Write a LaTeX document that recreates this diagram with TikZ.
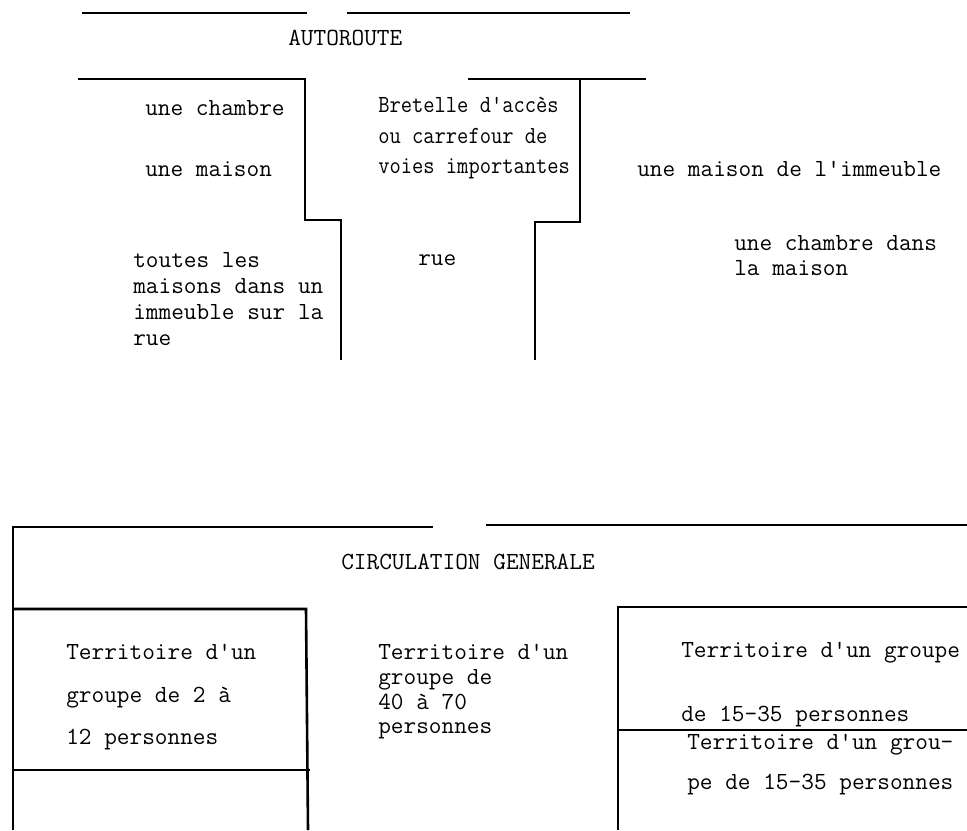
\documentclass[tikz,border=0pt]{standalone}
\usepackage{graphicx}
\usetikzlibrary{positioning}
\usetikzlibrary{calc}

\newcommand{\narrow}[1]{\scalebox{0.89}[1]{#1}}

\begin{document}
\begin{tikzpicture}[x=0.5pt, y=-0.5pt, line width=1.3pt,
	txt/.style={anchor=west, inner sep=0pt, align=left, font=\ttfamily\fontsize{12.3}{#1}\selectfont},
	txt/.default=15]
\useasboundingbox (0,0) rectangle (967,830);

% autoroute
\draw (82,13) -- (307,13);
\draw (347,13) -- (630,13);
\node[txt] (autoroute) at (287,38) {AUTOROUTE};

\draw (78,79) -- (305,79) -- (305,220) -- (341,220) -- (341,360);
\draw (468,79) -- (646,79);
\draw (580,79) -- (580,222) -- (535,222) -- (535,360);

\node[txt] (chambre) at (144,108) {une chambre};
\node[txt] (maison) at (144,169) {une maison};
\node[txt=15.25] (bretelle) at (377,138.5) {\narrow{Bretelle d'accès}\\\narrow{ou carrefour de}\\\narrow{voies importantes}};
\node[txt] (immeuble) at (636,169) {une maison de l'immeuble};
\node[txt=12.5] (chambredans) at (733,255.5) {une chambre dans\\la maison};
\node[txt=13] (toutes) at (132,299) {toutes les\\maisons dans un\\immeuble sur la\\rue};
\node[txt] (rue) at (417,260) {rue};

% circulation generale
\draw (13,830) -- (13,527) -- (433,527);
\draw (486,525) -- (967,525);
\node[txt] (circulation) at (340,562) {CIRCULATION GENERALE};

\draw (13,609) -- (306,609) -- (308,830);
\draw (13,770) -- (310,770);
\draw (967,607) -- (618,607) -- (618,830);
\draw (618,730) -- (967,730);

\node[txt=21.25] (petit) at (65,697.5) {Territoire d'un\\groupe de 2 à\\12 personnes};
\node[txt=12.35] (grand) at (377,692) {Territoire d'un\\groupe de\\40 à 70\\personnes};
\node[txt=32] (moyen1) at (680,685) {Territoire d'un groupe\\de 15-35 personnes};
\node[txt=20] (moyen2) at (686,765) {Territoire d'un grou-\\pe de 15-35 personnes};
\end{tikzpicture}
\end{document}
